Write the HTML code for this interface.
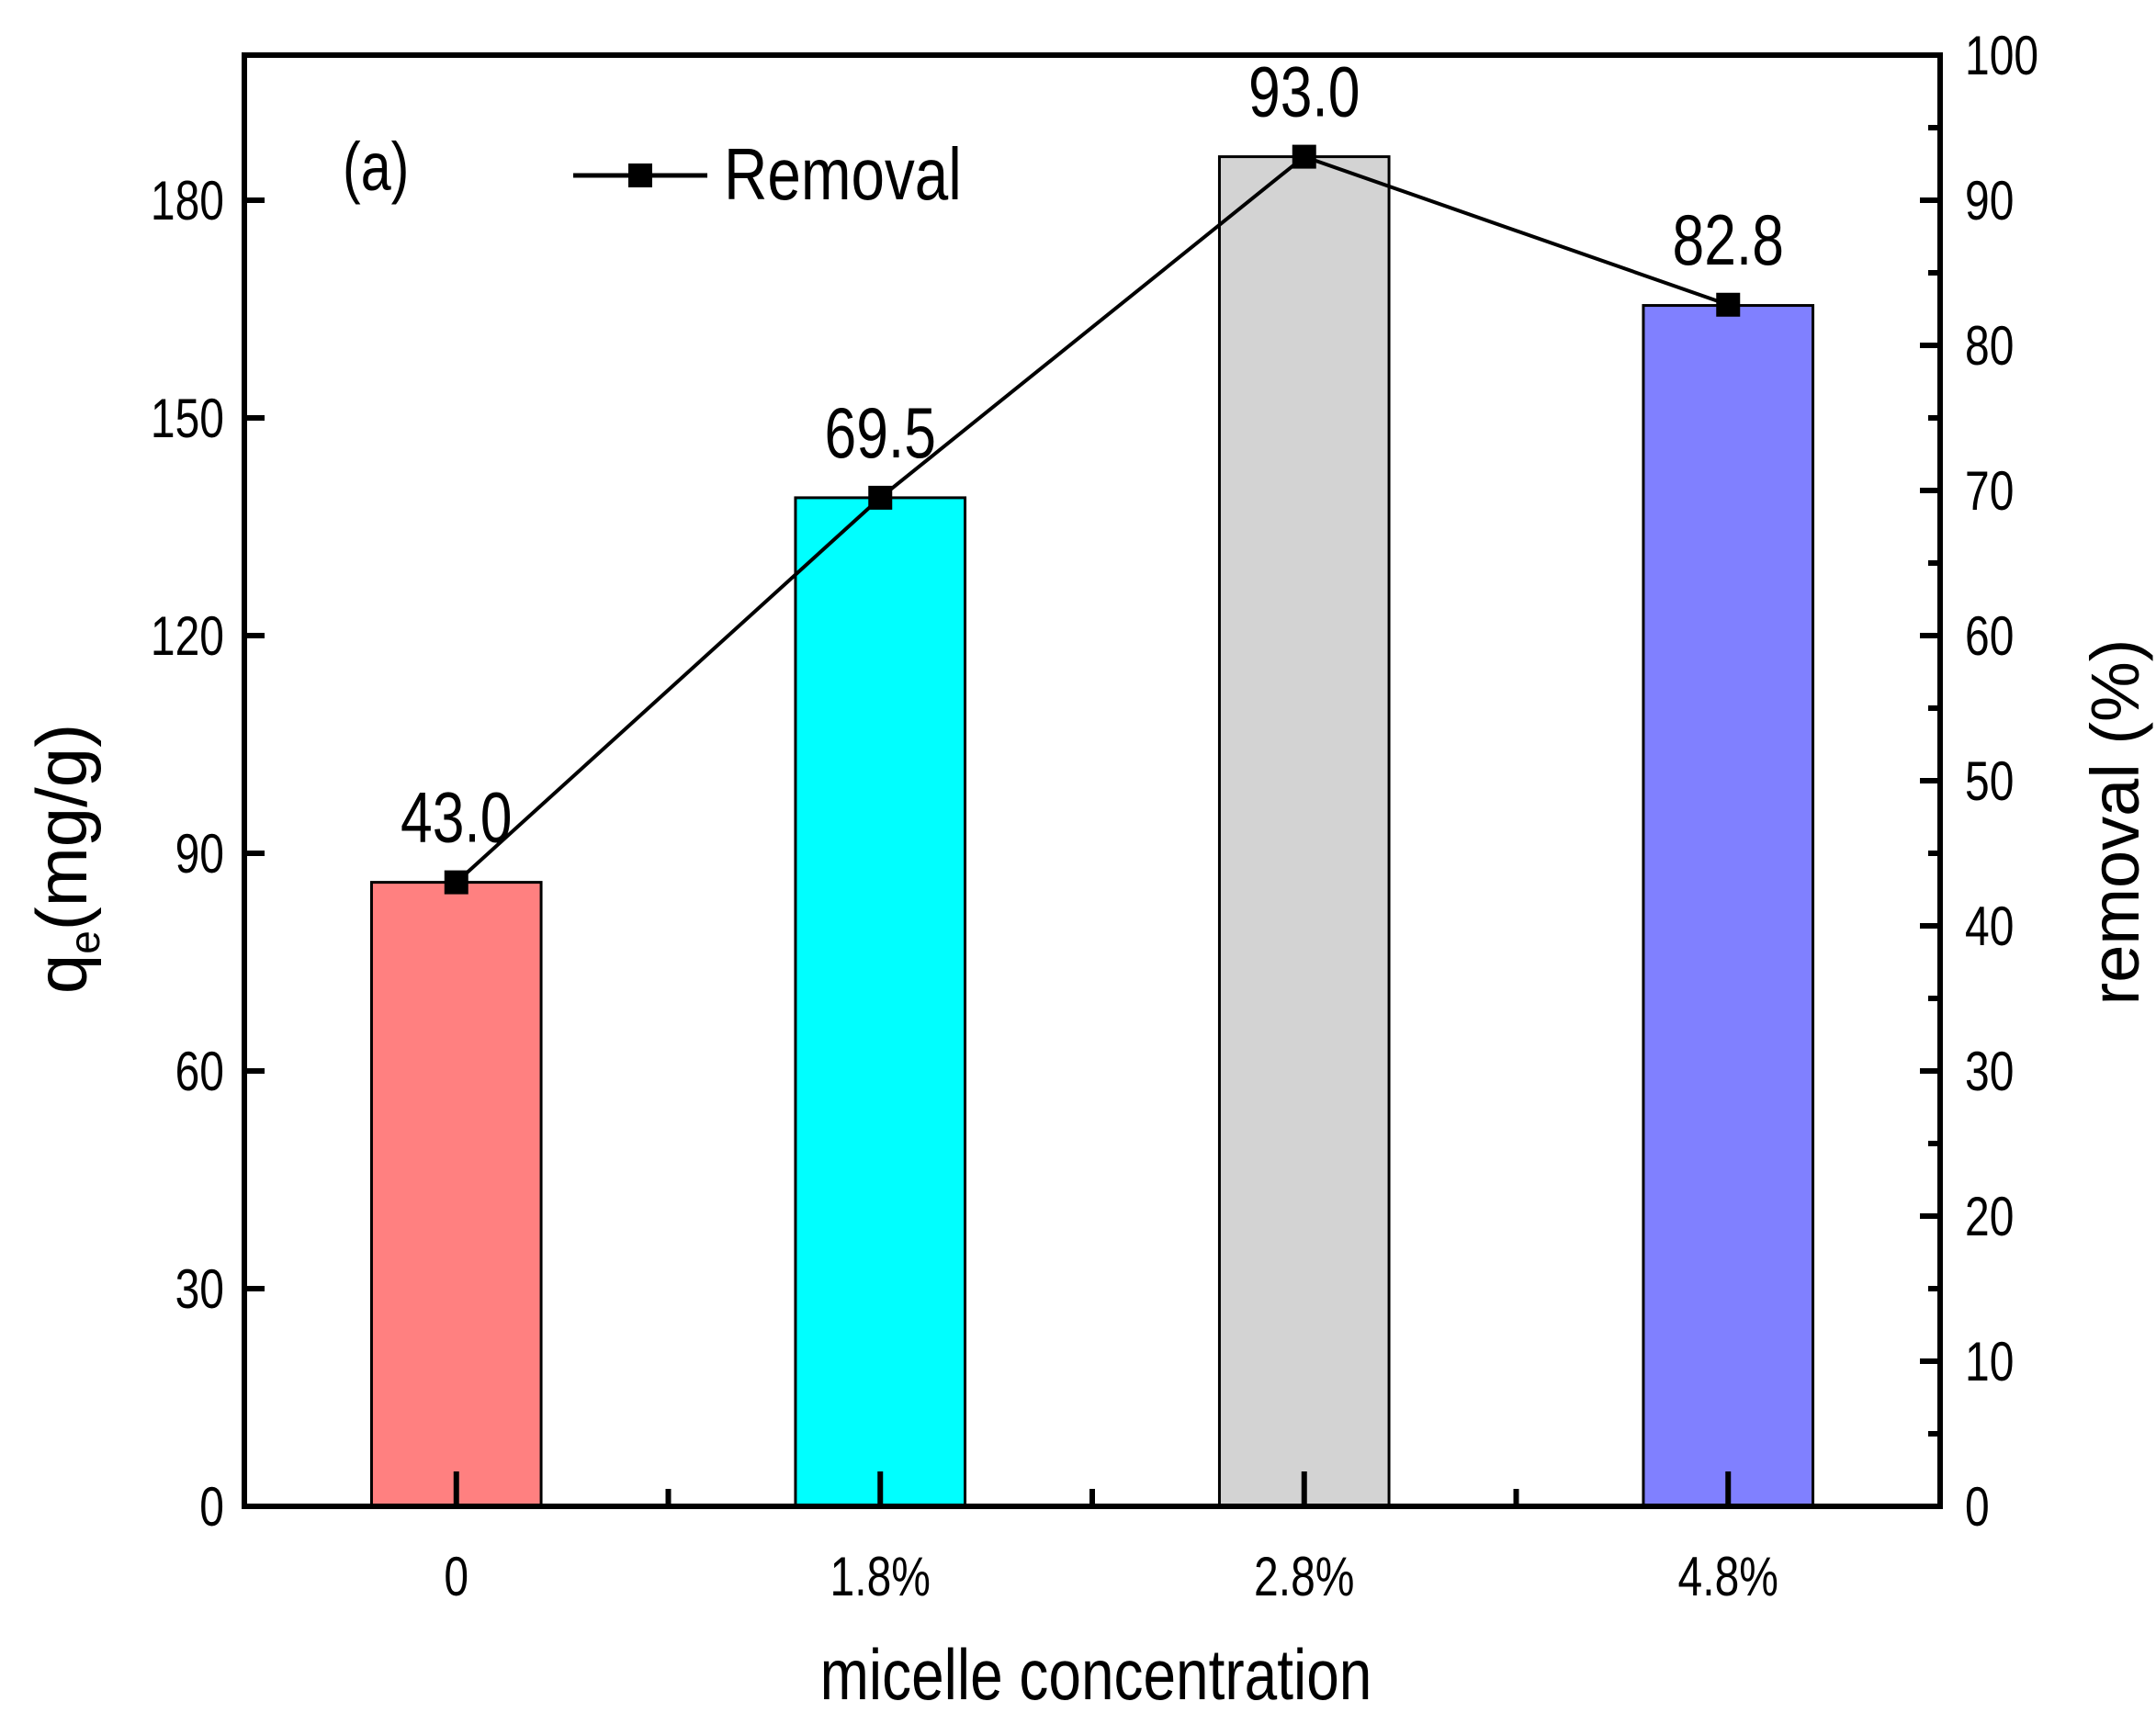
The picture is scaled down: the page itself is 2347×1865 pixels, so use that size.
<!DOCTYPE html>
<html><head><meta charset="utf-8"><style>
html,body{margin:0;padding:0;background:#fff}
svg{display:block}
text{font-family:"Liberation Sans",sans-serif;fill:#000}
</style></head><body>
<svg id="chart" width="2347" height="1865" viewBox="0 0 2347 1865" xmlns="http://www.w3.org/2000/svg"></svg>
<script>
const categories = ["0", "1.8%", "2.8%", "4.8%"];
const qeValues = [86.0, 139.0, 186.0, 165.5];
const removalValues = [43.0, 69.5, 93.0, 82.8];
const removalLabels = ["43.0", "69.5", "93.0", "82.8"];
const barColors = ["#ff8080", "#00ffff", "#d3d3d3", "#8080ff"];
const leftTicks = [0, 30, 60, 90, 120, 150, 180];
const rightTicks = [0, 10, 20, 30, 40, 50, 60, 70, 80, 90, 100];

const NS = "http://www.w3.org/2000/svg";
const svg = document.getElementById("chart");
const L = 266, R = 2112, T = 60, B = 1640;
const leftMax = 200, rightMax = 100;
const SX = 0.8;
const band = (R - L) / categories.length;
function xC(i){ return L + band * (i + 0.5); }
function yL(v){ return B - (v / leftMax) * (B - T); }
function yR(v){ return B - (v / rightMax) * (B - T); }
function mk(tag, attrs, parent){
  const e = document.createElementNS(NS, tag);
  for (const k in attrs) e.setAttribute(k, attrs[k]);
  (parent || svg).appendChild(e);
  return e;
}
function txt(x, y, s, size, anchor){
  const t = mk("text", {transform: "translate(" + x + "," + y + ") scale(" + SX + ",1)", "text-anchor": anchor, "font-size": size});
  t.textContent = s;
  return t;
}

const barW = band * 0.4;
categories.forEach((c, i) => {
  const y = yL(qeValues[i]);
  const r = mk("rect", {x: xC(i) - barW/2, y: y, width: barW, height: B - y, fill: barColors[i], stroke: "#000", "stroke-width": 3});
  
  
});

const frame = mk("rect", {x: L, y: T, width: R - L, height: B - T, fill: "none", stroke: "#000", "stroke-width": 6});



leftTicks.forEach(v => {
  const y = yL(v);
  mk("line", {x1: L, x2: L + 22, y1: y, y2: y, stroke: "#000", "stroke-width": 6});
  const t = txt(L - 22, y + 21, String(v), 60, "end");
  
  
});
rightTicks.forEach((v, i) => {
  const y = yR(v);
  mk("line", {x1: R, x2: R - 22, y1: y, y2: y, stroke: "#000", "stroke-width": 6});
  if (i < rightTicks.length - 1) {
    const ym = yR(v + 5);
    mk("line", {x1: R, x2: R - 13, y1: ym, y2: ym, stroke: "#000", "stroke-width": 6});
  }
  const t = txt(R + 27, y + 21, String(v), 60, "start");
  
  
});
categories.forEach((c, i) => {
  mk("line", {x1: xC(i), x2: xC(i), y1: B, y2: B - 38, stroke: "#000", "stroke-width": 6});
  if (i > 0) mk("line", {x1: L + band*i, x2: L + band*i, y1: B, y2: B - 19, stroke: "#000", "stroke-width": 6});
  const t = txt(xC(i), 1737, c, 60, "middle");
  
  
});

const pts = removalValues.map((v, i) => xC(i) + "," + yR(v)).join(" ");
const pl = mk("polyline", {points: pts, fill: "none", stroke: "#000", "stroke-width": 4});


removalValues.forEach((v, i) => {
  const m = mk("rect", {x: xC(i) - 13, y: yR(v) - 13, width: 26, height: 26, fill: "#000"});
  
  
  const t = txt(xC(i), yR(v) - 44, removalLabels[i], 78, "middle");
  
  
});
</script>
<svg style="position:absolute;left:0;top:0" width="2347" height="1865">
  <text transform="translate(373,207) scale(0.8,1)" font-size="74">(a)</text>
  <g>
    <line x1="624" x2="770" y1="191" y2="191" stroke="#000" stroke-width="5"/>
    <rect x="684" y="178" width="26" height="26" fill="#000"/>
    <text transform="translate(788,217) scale(0.82,1)" font-size="80">Removal</text>
  </g>
  <text transform="translate(1193,1850) scale(0.82,1)" text-anchor="middle" font-size="78">micelle concentration</text>
  <text transform="translate(94,935) rotate(-90)" text-anchor="middle" font-size="78">q<tspan font-size="46" dy="14">e</tspan><tspan dy="-14">(mg/g)</tspan></text>
  <text transform="translate(2328,895) rotate(-90)" text-anchor="middle" font-size="74">removal (%)</text>
</svg>
</body></html>
